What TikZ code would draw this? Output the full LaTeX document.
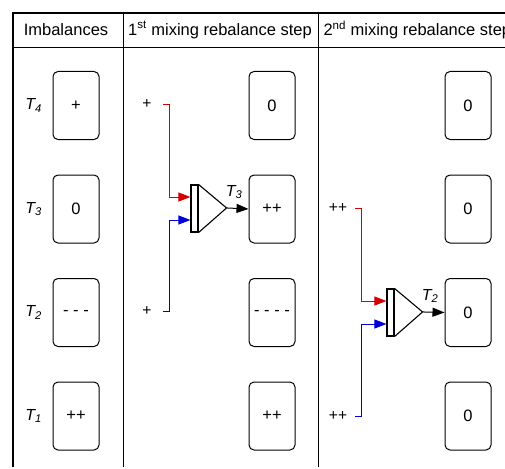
\documentclass[tikz,border=0pt]{standalone}
\usepackage{fontspec}
\setmainfont{Liberation Sans}
\usetikzlibrary{arrows.meta, positioning, calc}

\definecolor{mixred}{RGB}{214,0,0}
\definecolor{mixblue}{RGB}{0,0,214}

\begin{document}
\begin{tikzpicture}[
    x=1pt, y=-1pt,
    cell/.style={rectangle, draw, rounded corners=5pt, line width=1pt,
        minimum width=46pt, minimum height=68pt, font=\fontsize{16.5}{18}\selectfont},
    head/.style={font=\fontsize{16.5}{18}\selectfont},
    tlab/.style={font=\fontsize{16}{18}\selectfont\itshape},
    inlab/.style={font=\fontsize{15.5}{17}\selectfont, inner sep=1pt},
    mixbar/.style={rectangle, draw, line width=1.1pt, minimum width=7pt,
        minimum height=47pt, inner sep=0pt},
    redline/.style={mixred, line width=1pt, -{Triangle[length=12pt,width=9pt]}},
    blueline/.style={mixblue, line width=1pt, -{Triangle[length=12pt,width=9pt]}},
    outline/.style={line width=1pt, -{Triangle[length=12pt,width=9pt]}}
]
\useasboundingbox (0,0) rectangle (505,468);
% table
\draw[line width=1.6pt] (13,467) -- (13,13) -- (520,13);
\draw[line width=0.8pt] (13,47) -- (520,47);
\draw[line width=0.8pt] (123,13) -- (123,467);
\draw[line width=0.8pt] (318,13) -- (318,467);
\node[head] (h1) at (66,30) {Imbalances};
\node[head] (h2) at (220,30) {1\textsuperscript{st} mixing rebalance step};
\node[head, anchor=west] (h3) at (320,30) {2\textsuperscript{nd} mixing rebalance step};

% imbalances
\node[cell] (a4) at (76,105.5) {+};
\node[cell] (a3) at (76,209) {0};
\node[cell] (a2) at (76,312.5) {- - -};
\node[cell] (a1) at (76,416) {++};
\node[tlab, left=7pt of a4] {T\textsubscript{4}};
\node[tlab, left=7pt of a3] {T\textsubscript{3}};
\node[tlab, left=7pt of a2] {T\textsubscript{2}};
\node[tlab, left=7pt of a1] {T\textsubscript{1}};

% 1st step
\node[cell] (b4) at (272,105.5) {0};
\node[cell] (b3) at (272,209) {++};
\node[cell] (b2) at (272,312.5) {- - - -};
\node[cell] (b1) at (272,416) {++};
\node[inlab] (p4) at (147,104) {+};
\node[inlab] (p2) at (147,311) {+};
\node[mixbar] (mixA) at (194.5,208.5) {};
\draw[line width=1.1pt] (mixA.north east) -- ++(28,23.5) coordinate (mixAout)
    -- (mixA.south east);
\draw[redline] ([xshift=10pt]p4.east) -- ++(7,0) |- ([yshift=11.5pt]mixA.west);
\draw[blueline] ([xshift=10pt]p2.east) -- ++(7,0) |- ([yshift=-11.5pt]mixA.west);
\draw[outline] (mixAout) -- (b3.west);
\node[tlab, inner sep=0pt, anchor=south west] (t3) at ([xshift=-1pt,yshift=9pt]mixAout) {T\textsubscript{3}};

% 2nd step
\node[cell] (c4) at (468,105.5) {0};
\node[cell] (c3) at (468,209) {0};
\node[cell] (c2) at (468,312.5) {0};
\node[cell] (c1) at (468,416) {0};
\node[inlab] (q3) at (338,208) {++};
\node[inlab] (q1) at (338,416) {++};
\node[mixbar] (mixB) at (390.5,312.5) {};
\draw[line width=1.1pt] (mixB.north east) -- ++(28,23.5) coordinate (mixBout)
    -- (mixB.south east);
\draw[redline] ([xshift=7pt]q3.east) -- ++(6,0) |- ([yshift=11.5pt]mixB.west);
\draw[blueline] ([xshift=7pt]q1.east) -- ++(6,0) |- ([yshift=-11.5pt]mixB.west);
\draw[outline] (mixBout) -- (c2.west);
\node[tlab, inner sep=0pt, anchor=south west] (t2) at ([xshift=-1pt,yshift=9pt]mixBout) {T\textsubscript{2}};
\end{tikzpicture}
\end{document}
